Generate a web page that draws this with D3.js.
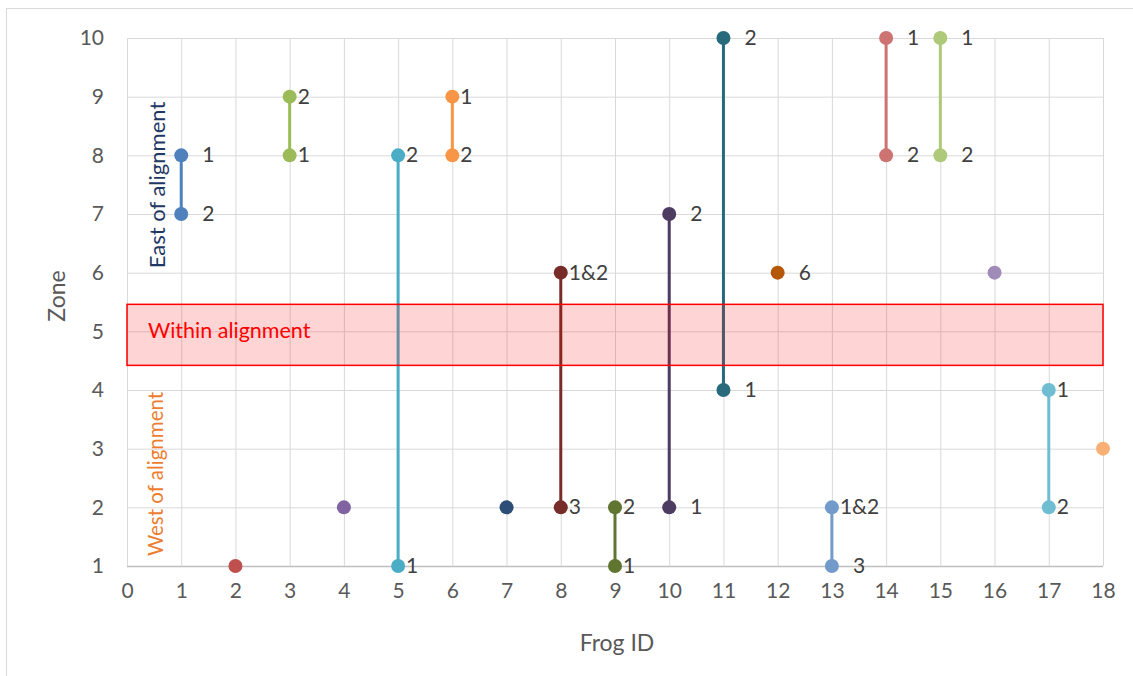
<!DOCTYPE html>
<html><head><meta charset="utf-8">
<script src="https://cdn.jsdelivr.net/npm/d3@7"></script>
<style>
html,body{margin:0;padding:0;background:#fff;}
svg{display:block;font-family:Lato,"Open Sans",sans-serif;}
</style></head>
<body>
<script>
// ---- data ----
const frogIds = [1,2,3,4,5,6,7,8,9,10,11,12,13,14,15,16,17,18];
const zoneA   = [8,1,9,2,8,9,2,6,2,7,10,6,2,10,10,6,4,3];
const zoneB   = [7,null,8,null,1,8,null,2,1,2,4,null,1,8,8,null,2,null];
const labelA  = ["1","","2","","2","1","","1&2","2","2","2","6","1&2","1","1","","1",""];
const labelB  = ["2","","1","","1","2","","3","1","1","1","","3","2","2","","2",""];
const labelGapA = ["far","","near","","near","near","","near","near","far","far","far","near","far","far","","near",""];
const labelGapB = ["far","","near","","near","near","","near","near","far","far","","far","far","far","","near",""];
const colors = ["#4F81BD","#C0504D","#9BBB59","#8064A2","#4BACC6","#F79646","#2C4D75","#772C2A","#5F7530","#4D3B62","#276A7C","#B65708","#729ACA","#CD7371","#AFC97A","#A18BB8","#6FBDD1","#F9B074"];
const xTicks = d3.range(0,19);
const yTicks = d3.range(1,11);
const alignmentBand = [4.42, 5.46];
const xTitle = "Frog ID", yTitle = "Zone";

// ---- layout ----
const W=1133,H=676;
const m={left:127,top:38,right:1103,bottom:566};
const svg=d3.select("body").append("svg").attr("width",W).attr("height",H);
svg.append("rect").attr("x",6.5).attr("y",8.5).attr("width",W).attr("height",H).attr("fill","#fff").attr("stroke","#D9D9D9");

const x=d3.scaleLinear().domain([0,18]).range([m.left,m.right]);
const y=d3.scaleLinear().domain([1,10]).range([m.bottom,m.top]);

// grid
svg.append("g").selectAll("line").data(yTicks).join("line")
  .attr("x1",m.left).attr("x2",m.right).attr("y1",d=>y(d)+0.5).attr("y2",d=>y(d)+0.5)
  .attr("stroke",d=>d===1?"#BFBFBF":"#D9D9D9").attr("stroke-width",d=>d===1?1.5:1);
svg.append("g").selectAll("line").data(xTicks).join("line")
  .attr("y1",m.top).attr("y2",m.bottom).attr("x1",d=>x(d)+0.5).attr("x2",d=>x(d)+0.5)
  .attr("stroke","#D9D9D9");

// axes tick labels
const xa=svg.append("g").attr("transform",`translate(0,${m.bottom})`)
  .call(d3.axisBottom(x).tickValues(xTicks).tickSize(0).tickPadding(17));
const ya=svg.append("g").attr("transform",`translate(${m.left},0)`)
  .call(d3.axisLeft(y).tickValues(yTicks).tickSize(0).tickPadding(23));
[xa,ya].forEach(g=>{g.select(".domain").remove();
  g.selectAll("text").attr("font-size",21).attr("fill","#595959").attr("font-family","Lato,'Open Sans',sans-serif");});

// axis titles
svg.append("text").attr("x",617).attr("y",651).attr("text-anchor","middle")
  .attr("font-size",23).attr("fill","#595959").text(xTitle);
svg.append("text").attr("transform","translate(65,296) rotate(-90)").attr("text-anchor","middle")
  .attr("font-size",23).attr("fill","#595959").text(yTitle);

// data marks
const rows=frogIds.map((id,i)=>({id,a:zoneA[i],b:zoneB[i],la:labelA[i],lb:labelB[i],ga:labelGapA[i],gb:labelGapB[i],c:colors[i]}));
const gap={near:8,far:21};
svg.append("g").selectAll("line").data(rows.filter(r=>r.b!=null)).join("line")
  .attr("x1",r=>x(r.id)).attr("x2",r=>x(r.id)).attr("y1",r=>y(r.a)).attr("y2",r=>y(r.b))
  .attr("stroke",r=>r.c).attr("stroke-width",3);

// alignment band (drawn above lines as in the reference)
svg.append("rect").attr("x",m.left).attr("width",m.right-m.left)
  .attr("y",y(alignmentBand[1])).attr("height",y(alignmentBand[0])-y(alignmentBand[1]))
  .attr("fill","rgba(255,0,0,0.17)").attr("stroke","#FF0000").attr("stroke-width",1.5);
svg.append("text").attr("x",148).attr("y",y(5)+7).attr("font-size",21.5).attr("fill","#FF0000").text("Within alignment");

const pts=[];
rows.forEach(r=>{pts.push({id:r.id,z:r.a,l:r.la,g:r.ga,c:r.c}); if(r.b!=null) pts.push({id:r.id,z:r.b,l:r.lb,g:r.gb,c:r.c});});
svg.append("g").selectAll("circle").data(pts).join("circle")
  .attr("cx",p=>x(p.id)).attr("cy",p=>y(p.z)).attr("r",7).attr("fill",p=>p.c);
svg.append("g").selectAll("text").data(pts.filter(p=>p.l)).join("text")
  .attr("x",p=>x(p.id)+(gap[p.g]||8)).attr("y",p=>y(p.z)+7)
  .attr("font-size",21).attr("fill","#404040").text(p=>p.l);

// region labels
svg.append("text").attr("transform","translate(165,185) rotate(-90)").attr("text-anchor","middle")
  .attr("font-size",22).attr("fill","#1F3864").text("East of alignment");
svg.append("text").attr("transform","translate(163,474) rotate(-90)").attr("text-anchor","middle")
  .attr("font-size",20.5).attr("fill","#ED7D31").text("West of alignment");
</script>
</body></html>
